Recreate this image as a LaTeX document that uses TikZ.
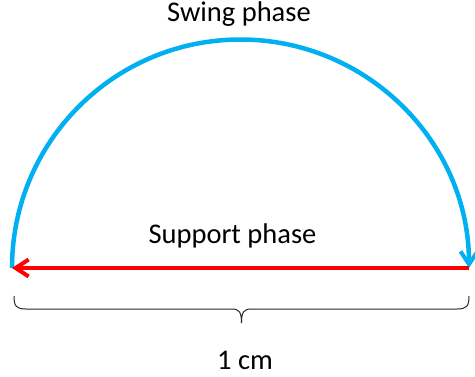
\documentclass[tikz,border=0pt]{standalone}
\usepackage{fontspec}
\setmainfont{Carlito}
\usetikzlibrary{arrows.meta}
\definecolor{swingblue}{RGB}{0,176,240}
\definecolor{suppred}{RGB}{255,0,0}
\definecolor{bracegray}{RGB}{40,40,40}
\tikzset{
  lbl/.style={font=\fontsize{28.5}{32}\selectfont, inner sep=0pt, anchor=base},
  barb/.style={-{Straight Barb[length=13pt,width=17pt,line width=4pt]}},
}
\begin{document}
\begin{tikzpicture}[x=1pt,y=1pt]
\useasboundingbox (0,0) rectangle (475,376);
\coordinate (L) at (12,108);
\coordinate (R) at (469,108);
% swing arc
\draw[swingblue, line width=4.5pt, barb] (L) arc[start angle=180, end angle=0, radius=228.5];
% support line
\draw[suppred, line width=4.5pt, barb] (R) -- (L);
% brace
\coordinate (BL) at (14,80);
\coordinate (BR) at (469,80);
\coordinate (BT) at (241.5,53);
\draw[bracegray, line width=1pt]
  (BL) .. controls (14,70) and (16,67) .. (26,67) -- (232,67)
  .. controls (239,67) and (241.5,64) .. (BT)
  .. controls (241.5,64) and (244,67) .. (251,67) -- (457,67)
  .. controls (467,67) and (469,70) .. (BR);
\node[lbl] (swing) at (239,354) {Swing phase};
\node[lbl] (support) at (232.5,133) {Support phase};
\node[lbl] (cm) at (245,7) {1 cm};
\end{tikzpicture}
\end{document}
